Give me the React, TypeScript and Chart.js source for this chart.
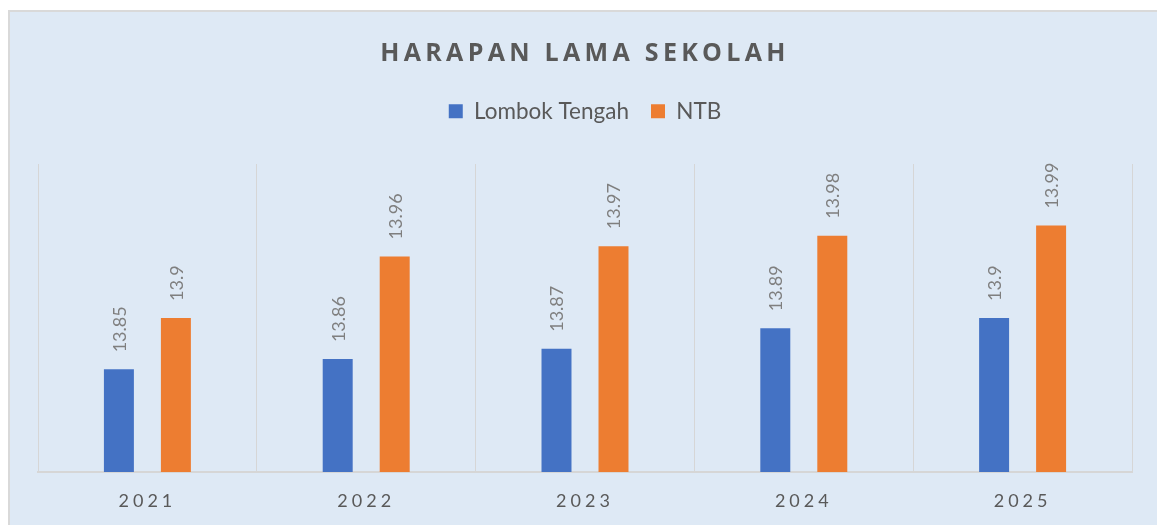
import React, { useEffect, useRef } from "react";
import { Chart, registerables } from "chart.js";

Chart.register(...registerables);

const TITLE = "HARAPAN LAMA SEKOLAH";
const YEARS = ["2021", "2022", "2023", "2024", "2025"];
const SERIES_NAMES = ["Lombok Tengah", "NTB"];
const LOMBOK_TENGAH = [13.85, 13.86, 13.87, 13.89, 13.9];
const NTB = [13.9, 13.96, 13.97, 13.98, 13.99];
const Y_MIN = 13.75;
const Y_MAX = 14.05;

const FONT = "Lato, 'Open Sans', sans-serif";
const TITLE_FONT = "'Open Sans', Lato, sans-serif";
const TEXT_DARK = "#595959";
const TEXT_LABEL = "#7f7f7f";
const BLUE = "#4472c4";
const ORANGE = "#ed7d31";
const GRID = "#d6d6d6";

const legendSpacer = {
  id: "legendSpacer",
  beforeInit(chart: any) {
    const legend = chart.legend;
    if (!legend) return;
    const orig = legend.fit;
    legend.fit = function () {
      orig.call(this);
      this.height += 31.5;
    };
  },
};

const titlePlugin = {
  id: "customTitle",
  afterDraw(chart: any) {
    const { ctx, chartArea } = chart;
    ctx.save();
    ctx.font = `bold 25px ${TITLE_FONT}`;
    ctx.fillStyle = TEXT_DARK;
    (ctx as any).letterSpacing = "4.3px";
    ctx.textAlign = "center";
    ctx.textBaseline = "alphabetic";
    ctx.fillText(TITLE, (chartArea.left + chartArea.right) / 2, 49);
    ctx.restore();
  },
};

const xLabelsPlugin = {
  id: "xLabels",
  afterDraw(chart: any) {
    const { ctx, chartArea } = chart;
    const xScale = chart.scales.x;
    ctx.save();
    ctx.font = `18px ${FONT}`;
    ctx.fillStyle = TEXT_DARK;
    (ctx as any).letterSpacing = "4px";
    ctx.textAlign = "center";
    ctx.textBaseline = "alphabetic";
    YEARS.forEach((label, i) => {
      ctx.fillText(label, xScale.getPixelForValue(i), chartArea.bottom + 35);
    });
    ctx.restore();
  },
};

const dataLabelsPlugin = {
  id: "barValueLabels",
  afterDatasetsDraw(chart: any) {
    const { ctx } = chart;
    chart.data.datasets.forEach((ds: any, di: number) => {
      const meta = chart.getDatasetMeta(di);
      meta.data.forEach((bar: any, i: number) => {
        const { x, y } = bar.getProps(["x", "y"], true);
        ctx.save();
        ctx.translate(x + 1, y - 17);
        ctx.rotate(-Math.PI / 2);
        ctx.font = `18px ${FONT}`;
        ctx.fillStyle = TEXT_LABEL;
        ctx.textAlign = "left";
        ctx.textBaseline = "middle";
        ctx.fillText(String(ds.data[i]), 0, 0);
        ctx.restore();
      });
    });
  },
};

export default function App() {
  const ref = useRef<HTMLCanvasElement>(null);

  useEffect(() => {
    if (!ref.current) return;
    const chart = new Chart(ref.current, {
      type: "bar",
      data: {
        labels: YEARS,
        datasets: [
          {
            label: SERIES_NAMES[0],
            data: LOMBOK_TENGAH,
            backgroundColor: BLUE,
            borderWidth: 0,
            barPercentage: 0.526,
            categoryPercentage: 0.521,
          },
          {
            label: SERIES_NAMES[1],
            data: NTB,
            backgroundColor: ORANGE,
            borderWidth: 0,
            barPercentage: 0.526,
            categoryPercentage: 0.521,
          },
        ],
      },
      options: {
        responsive: true,
        maintainAspectRatio: false,
        animation: false,
        layout: { padding: { top: 66, left: 28, right: 25, bottom: 53 } },
        plugins: {
          title: { display: false },
          tooltip: { enabled: false },
          legend: {
            display: true,
            position: "top",
            labels: {
              font: { family: FONT, size: 22.5 },
              color: TEXT_DARK,
              boxWidth: 14,
              boxHeight: 14,
              padding: 22,
            },
          },
        },
        scales: {
          x: {
            grid: { display: true, color: GRID, lineWidth: 1, drawTicks: false, offset: true },
            border: { display: true, color: GRID, width: 2 },
            ticks: { display: false },
          },
          y: { display: false, min: Y_MIN, max: Y_MAX },
        },
      },
      plugins: [legendSpacer, titlePlugin, xLabelsPlugin, dataLabelsPlugin],
    });
    return () => chart.destroy();
  }, []);

  return (
    <div
      style={{
        position: "absolute",
        left: 8,
        top: 10,
        width: 1149,
        height: 515,
        boxSizing: "border-box",
        background: "#dee9f5",
        borderTop: "2px solid #d9d9d9",
        borderLeft: "2px solid #d9d9d9",
        overflow: "hidden",
      }}
    >
      <div style={{ position: "absolute", left: 0, top: 0, width: 1147, height: 513 }}>
        <canvas ref={ref} />
      </div>
    </div>
  );
}
